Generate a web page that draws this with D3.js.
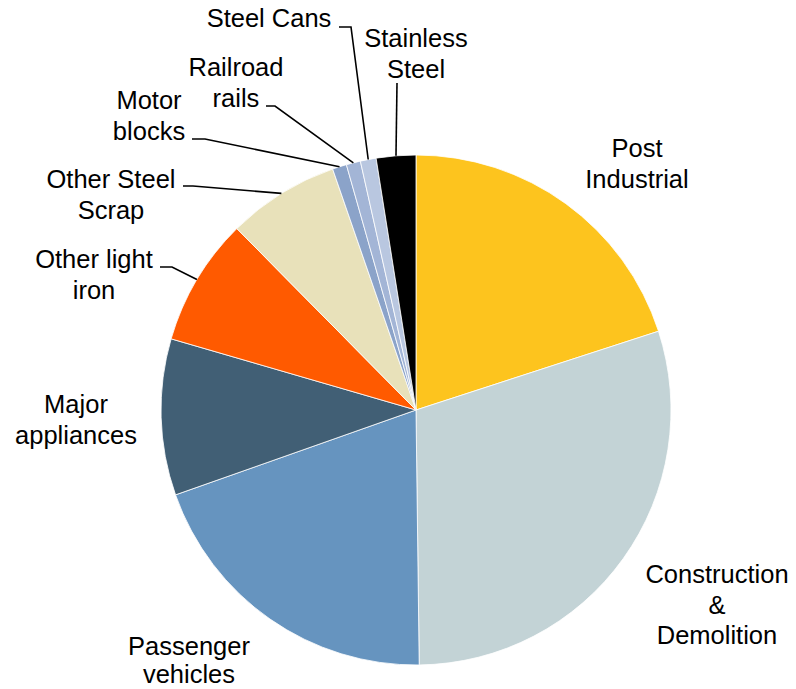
<!DOCTYPE html>
<html><head><meta charset="utf-8">
<script src="https://cdn.jsdelivr.net/npm/d3@7"></script>
<style>html,body{margin:0;padding:0;background:#fff;}svg{display:block;}
text{font-family:Arial,"Liberation Sans",Helvetica,sans-serif;}</style>
</head><body>
<script>
const categories = ["Post Industrial","Construction & Demolition","Passenger vehicles","Major appliances","Other light iron","Other Steel Scrap","Motor blocks","Railroad rails","Steel Cans","Stainless Steel"];
const values = [20.0, 29.8, 19.8, 9.9, 8.1, 7.1, 0.9, 0.9, 1.0, 2.5];
const colors = ["#FDC41E","#C3D3D6","#6694BF","#415F75","#FF5A00","#E8E1BA","#8BA3C9","#A3B5D6","#B9C7E0","#000000"];
// label text lines
const labelLines = [["Post","Industrial"],["Construction","&","Demolition"],["Passenger","vehicles"],["Major","appliances"],["Other light","iron"],["Other Steel","Scrap"],["Motor","blocks"],["Railroad","rails"],["Steel Cans"],["Stainless","Steel"]];

// layout (positions)
const W = 796, H = 689, cx = 416, cy = 410, R = 255;
const fontSize = 25.5, lineH = 30.5;
const labelPos = [ // center x, first baseline y, line spacing
  [637,157,lineH],[717,583,lineH],[189,655,28],[76,413,lineH],[94,268,lineH],[111,188,lineH],[149,109,lineH],[236,76,lineH],[269,27,lineH],[416,47,lineH]
];
// leader stub on label side: [x1,y1,x2,y2], null if none
const leaderStub = [null,null,null,null,[160,267,172,267],[183,186,193,186],[192,139,205,139],[266,106,275,106],[339,27,351,27],[397,83,397,83]];

const svg = d3.select("body").append("svg").attr("width",W).attr("height",H);
const pie = d3.pie().sort(null).value(d=>d)(values);
const arc = d3.arc().innerRadius(0).outerRadius(R);
const g = svg.append("g").attr("transform",`translate(${cx},${cy})`);
g.selectAll("path").data(pie).join("path")
  .attr("d",arc).attr("fill",(d,i)=>colors[i])
  .attr("stroke","#fff").attr("stroke-width",0.8).attr("stroke-linejoin","round");

// leader lines
pie.forEach((d,i)=>{
  const s = leaderStub[i]; if(!s) return;
  const a = (d.startAngle+d.endAngle)/2;
  const ex = cx + R*Math.sin(a), ey = cy - R*Math.cos(a);
  svg.append("polyline")
    .attr("points",`${s[0]},${s[1]} ${s[2]},${s[3]} ${ex},${ey}`)
    .attr("fill","none").attr("stroke","#000").attr("stroke-width",1.6);
});

// labels
labelLines.forEach((lines,i)=>{
  const t = svg.append("text").attr("text-anchor","middle")
    .attr("font-size",fontSize).attr("fill","#000");
  lines.forEach((ln,j)=>{
    t.append("tspan").attr("x",labelPos[i][0]).attr("y",labelPos[i][1]+j*labelPos[i][2]).text(ln);
  });
});
</script>
</body></html>
